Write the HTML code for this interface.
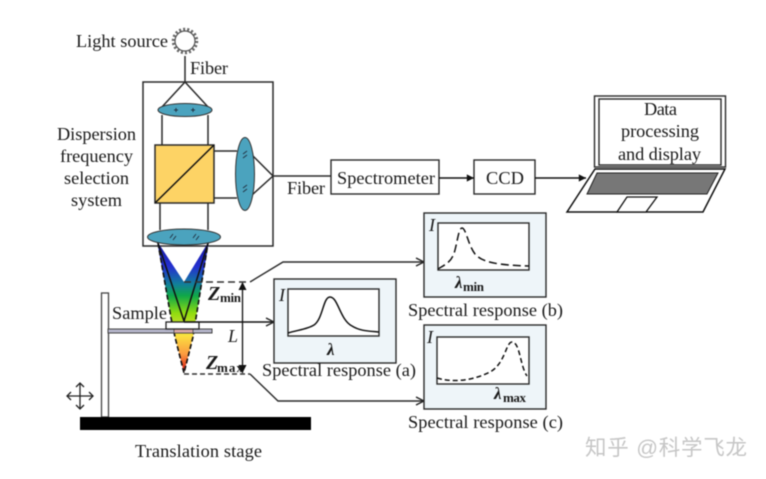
<!DOCTYPE html>
<html>
<head>
<meta charset="utf-8">
<style>
html,body{margin:0;padding:0;background:#fff;width:766px;height:479px;overflow:hidden}
svg{display:block;filter:blur(0.45px)}
text{font-family:"Liberation Serif","Noto Serif CJK SC",serif;font-size:18.3px;fill:#1a1a1a}
.b{font-weight:bold;font-size:13px}
.z{font-weight:bold;font-style:italic;font-size:20px}
.i{font-style:italic;font-size:18px}
.l{font-weight:bold;font-style:italic;font-size:17px}
</style>
</head>
<body>
<svg width="766" height="479" viewBox="0 0 766 479" xmlns="http://www.w3.org/2000/svg">
<defs>
<linearGradient id="g" gradientUnits="userSpaceOnUse" x1="0" y1="240" x2="0" y2="373">
<stop offset="0" stop-color="#14149a"/>
<stop offset="0.2" stop-color="#2430d0"/>
<stop offset="0.33" stop-color="#127e9c"/>
<stop offset="0.42" stop-color="#10a848"/>
<stop offset="0.55" stop-color="#90dc10"/>
<stop offset="0.72" stop-color="#fbe040"/>
<stop offset="0.86" stop-color="#fb9a40"/>
<stop offset="0.97" stop-color="#e02818"/>
</linearGradient>
<marker id="o" viewBox="0 0 10 10" refX="9" refY="5" markerWidth="10" markerHeight="10" orient="auto" markerUnits="userSpaceOnUse"><path d="M1 1L9 5L1 9" fill="none" stroke="#222" stroke-width="1.4"/></marker>
<marker id="f" viewBox="0 0 10 10" refX="9" refY="5" markerWidth="9" markerHeight="9" orient="auto" markerUnits="userSpaceOnUse"><path d="M1 1L9 5L1 9Z" fill="#111"/></marker>
</defs>

<!-- light source -->
<circle cx="185" cy="41" r="11.5" fill="#fff" stroke="#666" stroke-width="3.5" stroke-dasharray="2 2"/>
<circle cx="185" cy="41" r="10" fill="#fff" stroke="#555" stroke-width="1.2"/>
<g fill="none" stroke="#2a2a2a" stroke-width="1.5">
<path d="M185 56V82"/>
<rect x="143" y="82" width="130" height="164"/>
<path d="M161 108L185 82L209 108"/>
<path d="M162 115V145M208 115V145"/>
<path d="M214 151H237M214 198H237"/>
<path d="M252 155L273 176L252 195"/>
<path d="M273 176H331"/>
<path d="M160 203V230M208 203V230"/>
</g>
<!-- cube -->
<rect x="155" y="145" width="59" height="58" fill="#fdd365" stroke="#2a2a2a" stroke-width="1.5"/>
<path d="M155 203L214 145" stroke="#111" stroke-width="1.5"/>
<!-- lenses -->
<ellipse cx="185" cy="110" rx="27" ry="6.500" fill="#4ba3be" stroke="#333" stroke-width="1"/>
<ellipse cx="245" cy="174" rx="9.500" ry="36.500" fill="#4ba3be" stroke="#333" stroke-width="1"/>
<g stroke="#234" stroke-width="1" fill="none">
<path d="M174 110h4M176 108v4M191 110h4M193 108v4"/>
<path d="M243 154l4-3M243 158l4-3M243 188l4-3M243 192l4-3"/>
</g>
<!-- cone -->
<polygon points="157,241 171,318 175,337 184,373 193,337 196,318 209,241 184,282" fill="url(#g)"/>
<path d="M158 243L171 318L175 337L184 373L193 337L196 318L208 243" fill="none" stroke="#111" stroke-width="1.6" stroke-dasharray="5 2.500"/>
<path d="M157 240L184 321L209 240" fill="none" stroke="#111" stroke-width="1.5"/>
<ellipse cx="184" cy="237" rx="36.500" ry="8" fill="#4ba3be" stroke="#333" stroke-width="1"/>
<path d="M170 238l3-4M173 240l3-4M193 238l3-4M196 240l3-4" stroke="#234" stroke-width="1" fill="none"/>

<!-- stage -->
<rect x="101.500" y="293" width="7" height="124" fill="#fff" stroke="#444" stroke-width="1.300"/>
<rect x="108" y="329" width="104" height="4" fill="#b4b4ca" stroke="#444" stroke-width="1"/>
<rect x="174" y="329" width="19" height="4" fill="#d8a8a8" stroke="#444" stroke-width="0.8"/>
<rect x="166" y="322" width="33" height="7" fill="#fff" stroke="#222" stroke-width="1.300"/>
<rect x="80" y="417" width="231" height="13" fill="#000"/>
<!-- move icon -->
<g fill="none" stroke="#222" stroke-width="1.300">
<path d="M67 396H93M80 383V409"/>
<path d="M71 392L67 396L71 400M89 392L93 396L89 400M76 387L80 383L84 387M76 405L80 409L84 405"/>
</g>

<!-- connectors -->
<path d="M184 282H250" stroke="#333" stroke-width="1.500" stroke-dasharray="7 4" fill="none"/>
<path d="M250 282L283 262H424" stroke="#2a2a2a" stroke-width="1.400" fill="none" marker-end="url(#o)"/>
<path d="M184 374H250" stroke="#333" stroke-width="1.500" stroke-dasharray="5 3" fill="none"/>
<path d="M250 374L278 401H424" stroke="#2a2a2a" stroke-width="1.400" fill="none" marker-end="url(#o)"/>
<path d="M184 322H274" stroke="#111" stroke-width="1.400" fill="none" marker-end="url(#o)"/>
<path d="M242.500 283V373" stroke="#111" stroke-width="1.300" fill="none"/>
<path d="M242.500 282l-4 8h8zM242.500 373l-4-8h8z" fill="#111"/>

<!-- panels -->
<g stroke="#2a2a2a" stroke-width="1.400">
<rect x="274" y="279" width="122" height="84" fill="#eef5f9"/>
<rect x="288" y="289" width="91" height="47" fill="#fff"/>
<rect x="424" y="213" width="122" height="84" fill="#eef5f9"/>
<rect x="438" y="223" width="91" height="47" fill="#fff"/>
<rect x="424" y="325" width="122" height="84" fill="#eef5f9"/>
<rect x="437" y="337" width="92" height="47" fill="#fff"/>
</g>
<path d="M288 333C298 330 308 329 314 325C323 319 323 297 330 297C338 297 340 320 352 326C360 331 368 331 379 332" fill="none" stroke="#111" stroke-width="1.500"/>
<path d="M438 269C446 264 452 262 455 250C458 238 459 228 462 228C466 228 468 245 475 254C482 262 495 265 529 266" fill="none" stroke="#111" stroke-width="1.500" stroke-dasharray="8 4"/>
<path d="M437 378C450 382 470 382 490 372C505 364 506 342 512 342C520 342 520 366 527 376" fill="none" stroke="#111" stroke-width="1.500" stroke-dasharray="5 3"/>

<!-- blocks -->
<rect x="331" y="160" width="108" height="34" fill="#fff" stroke="#2a2a2a" stroke-width="1.400"/>
<rect x="474" y="160" width="61" height="34" fill="#fff" stroke="#2a2a2a" stroke-width="1.400"/>
<path d="M439 178H474" stroke="#111" stroke-width="1.400" marker-end="url(#f)"/>
<path d="M535 178H586" stroke="#111" stroke-width="1.400" marker-end="url(#f)"/>

<!-- laptop -->
<rect x="594.500" y="96" width="131" height="71" fill="#fff" stroke="#2a2a2a" stroke-width="1.400"/>
<rect x="599" y="99" width="122" height="66" fill="#fff" stroke="#2a2a2a" stroke-width="1.400"/>
<polygon points="595,169 725,169 703,212 567,212" fill="#fff" stroke="#111" stroke-width="1.500"/>
<polygon points="597,173 718,173 707,194 587,194" fill="#777" stroke="#222" stroke-width="1"/>
<polygon points="627,197 657,197 646,212 617,212" fill="#fff" stroke="#111" stroke-width="1.300"/>

<!-- labels -->
<text x="76" y="47" textLength="92" lengthAdjust="spacing">Light source</text>
<text x="190" y="74" textLength="38" lengthAdjust="spacing">Fiber</text>
<text x="57" y="140" textLength="79" lengthAdjust="spacing">Dispersion</text>
<text x="60" y="162" textLength="73" lengthAdjust="spacing">frequency</text>
<text x="64" y="184" textLength="65" lengthAdjust="spacing">selection</text>
<text x="71" y="206" textLength="51" lengthAdjust="spacing">system</text>
<text x="287" y="194" textLength="38" lengthAdjust="spacing">Fiber</text>
<text x="337" y="184" textLength="98" lengthAdjust="spacing">Spectrometer</text>
<text x="486" y="184" textLength="38" lengthAdjust="spacing">CCD</text>
<text x="644" y="115" textLength="33" lengthAdjust="spacing">Data</text>
<text x="621" y="137" textLength="78" lengthAdjust="spacing">processing</text>
<text x="618" y="160" textLength="83" lengthAdjust="spacing">and display</text>
<text x="112" y="319" textLength="55" lengthAdjust="spacing">Sample</text>
<text x="135" y="457" textLength="127" lengthAdjust="spacing">Translation stage</text>
<text x="262" y="376" textLength="154" lengthAdjust="spacing">Spectral response (a)</text>
<text x="408" y="316" textLength="155" lengthAdjust="spacing">Spectral response (b)</text>
<text x="408" y="428" textLength="155" lengthAdjust="spacing">Spectral response (c)</text>
<text class="z" x="208" y="300">Z</text>
<text class="b" x="220" y="302" textLength="21" lengthAdjust="spacing">min</text>
<text class="i" x="228" y="342">L</text>
<text class="z" x="206" y="369">Z</text>
<text class="b" x="217" y="372" textLength="26" lengthAdjust="spacing">max</text>
<text class="i" x="279" y="301">I</text>
<text class="i" x="429" y="231">I</text>
<text class="i" x="427" y="343">I</text>
<text class="l" x="327" y="355">λ</text>
<text class="l" x="455" y="288">λ</text>
<text class="b" x="463" y="291" textLength="21" lengthAdjust="spacing">min</text>
<text class="l" x="494" y="399">λ</text>
<text class="b" x="503" y="402" textLength="23" lengthAdjust="spacing">max</text>

<!-- watermark -->
<text x="585" y="455" style="font-family:'Liberation Sans','Noto Sans CJK SC',sans-serif;font-size:21.5px;fill:#c6c6c6" textLength="162" lengthAdjust="spacing">知乎 @科学飞龙</text>
</svg>
</body>
</html>
